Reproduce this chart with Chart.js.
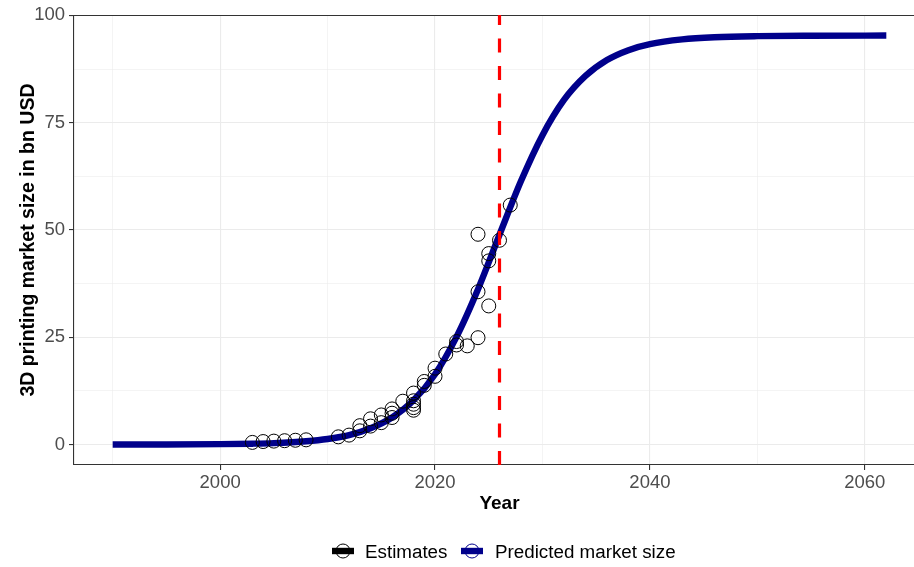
<!DOCTYPE html>
<html>
<head>
<meta charset="utf-8">
<script src="https://cdn.jsdelivr.net/npm/chart.js@4/dist/chart.umd.min.js"></script>
<style>
  html, body { margin: 0; padding: 0; background: #ffffff; overflow: hidden; }
  #wrap { width: 926px; height: 567px; }
</style>
</head>
<body>
<div id="wrap"><canvas id="chart" width="926" height="567"></canvas></div>
<script>
// Published market size estimates (bn USD) by year
const estimateYears = [2003, 2004, 2005, 2006, 2007, 2008, 2011, 2012, 2013, 2013,
  2014, 2014, 2015, 2015, 2016, 2016, 2016, 2017, 2018, 2018, 2018, 2018, 2018,
  2019, 2019, 2020, 2020, 2021, 2022, 2022, 2023, 2024, 2024, 2024, 2025, 2025, 2025,
  2026, 2027];
const estimateValues = [0.5, 0.7, 0.8, 0.9, 1.0, 1.1, 1.8, 2.2, 3.2, 4.4,
  4.3, 6.0, 5.1, 6.9, 6.3, 7.3, 8.3, 10.1, 8.0, 8.6, 9.4, 10.2, 12.0,
  13.8, 14.7, 15.9, 17.8, 21.1, 23.2, 24.0, 23.0, 24.9, 35.6, 49.0, 32.3, 42.8, 44.5,
  47.6, 55.8];

// Predicted market size curve (bn USD)
const curveYears = [1990, 1995, 2000, 2003, 2005, 2008, 2010, 2012, 2014, 2016, 2018,
  2020, 2022, 2024, 2026, 2028, 2030, 2032, 2034, 2036, 2038, 2040, 2043, 2046,
  2050, 2055, 2062];
const curveValues = [0.01, 0.02, 0.09, 0.2, 0.34, 0.77, 1.3, 2.2, 3.8, 6.3, 10.3,
  16.4, 25.1, 36.2, 48.9, 61.4, 72.1, 80.3, 85.9, 89.6, 91.9, 93.3, 94.4, 94.9,
  95.16, 95.26, 95.3];

// Current year marker
const markerYear = 2026;

// Axis ticks: every entry gets a grid line, labelled ones are major
const xTickYears = [1990, 2000, 2010, 2020, 2030, 2040, 2050, 2060];
const xLabelYears = [2000, 2020, 2040, 2060];
const yTickValues = [0, 12.5, 25, 37.5, 50, 62.5, 75, 87.5, 100];
const yLabelValues = [0, 25, 50, 75, 100];

const xRange = [1986.4, 2065.6];
const yRange = [-4.765, 100.07];

Chart.defaults.font.family = '"Liberation Sans", Arial, Helvetica, sans-serif';

const estimatePoints = estimateYears.map((yr, i) => ({ x: yr, y: estimateValues[i] }));
const curvePoints = curveYears.map((yr, i) => ({ x: yr, y: curveValues[i] }));
const markerPoints = [{ x: markerYear, y: yRange[0] }, { x: markerYear, y: yRange[1] }];

const GRID = '#EBEBEB';
const AXIS = '#333333';

function gridOpts(labelled) {
  return {
    color: GRID,
    lineWidth: c => (c.tick && labelled.includes(c.tick.value)) ? 1.1 : 0.55,
    tickColor: c => (c.tick && labelled.includes(c.tick.value)) ? AXIS : 'rgba(0,0,0,0)',
    tickLength: 5,
    tickWidth: 1.1,
    drawTicks: true
  };
}

// Legend drawn below the plot: each key is a short line with an open circle on top
const legendKeys = {
  id: 'legendKeys',
  afterDraw(chart) {
    const ctx = chart.ctx;
    const cy = 551;
    const entries = [
      { ds: chart.data.datasets[0], color: '#000000', keyX: 332, textX: 365 },
      { ds: chart.data.datasets[1], color: '#00008B', keyX: 461, textX: 495 }
    ];
    ctx.save();
    entries.forEach(e => {
      ctx.strokeStyle = e.color;
      ctx.lineWidth = 6.4;
      ctx.lineCap = 'butt';
      ctx.beginPath();
      ctx.moveTo(e.keyX, cy);
      ctx.lineTo(e.keyX + 22, cy);
      ctx.stroke();
      ctx.lineWidth = 1;
      ctx.beginPath();
      ctx.arc(e.keyX + 11, cy, 7, 0, Math.PI * 2);
      ctx.stroke();
      ctx.fillStyle = '#000000';
      ctx.font = '18.8px "Liberation Sans", Arial, sans-serif';
      ctx.textBaseline = 'alphabetic';
      ctx.textAlign = 'left';
      ctx.fillText(e.ds.label, e.textX, 558);
    });
    ctx.restore();
  }
};

new Chart(document.getElementById('chart'), {
  type: 'scatter',
  data: {
    datasets: [
      {
        label: 'Estimates',
        type: 'scatter',
        data: estimatePoints,
        pointRadius: 7,
        pointHoverRadius: 7,
        pointBorderWidth: 1,
        pointBorderColor: '#000000',
        pointBackgroundColor: 'rgba(0,0,0,0)',
        order: 1
      },
      {
        label: 'Predicted market size',
        type: 'line',
        data: curvePoints,
        borderColor: '#00008B',
        borderWidth: 6.4,
        pointRadius: 0,
        fill: false,
        cubicInterpolationMode: 'monotone',
        order: 2
      },
      {
        label: 'marker',
        type: 'line',
        data: markerPoints,
        borderColor: '#FF0000',
        borderWidth: 3.2,
        borderDash: [14, 13.5],
        pointRadius: 0,
        fill: false,
        order: 0
      }
    ]
  },
  options: {
    responsive: false,
    animation: false,
    devicePixelRatio: 1,
    layout: { autoPadding: false, padding: { top: 13, right: 1, bottom: 42, left: 0 } },
    plugins: {
      legend: { display: false },
      tooltip: { enabled: false }
    },
    scales: {
      x: {
        type: 'linear',
        position: 'bottom',
        min: xRange[0],
        max: xRange[1],
        afterBuildTicks: s => { s.ticks = xTickYears.map(v => ({ value: v })); },
        afterFit: s => { s.height = 60; },
        ticks: {
          autoSkip: false,
          maxRotation: 0,
          minRotation: 0,
          padding: 2,
          color: '#4D4D4D',
          font: { size: 18.5 },
          callback: v => xLabelYears.includes(v) ? String(v) : ''
        },
        grid: gridOpts(xLabelYears),
        border: { display: true, color: AXIS, width: 1.1 },
        title: {
          display: true,
          text: 'Year',
          color: '#000000',
          font: { size: 19, weight: 'bold' },
          padding: { top: 0, bottom: 9.6 }
        }
      },
      xTop: {
        type: 'linear',
        position: 'top',
        min: xRange[0],
        max: xRange[1],
        afterFit: s => { s.height = 0; },
        ticks: { display: false },
        grid: { display: true, color: 'rgba(0,0,0,0)', drawTicks: false },
        border: { display: true, color: AXIS, width: 1.1 }
      },
      y: {
        type: 'linear',
        min: yRange[0],
        max: yRange[1],
        afterBuildTicks: s => { s.ticks = yTickValues.map(v => ({ value: v })); },
        afterFit: s => { s.width = 74; },
        ticks: {
          autoSkip: false,
          padding: 4,
          color: '#4D4D4D',
          font: { size: 18.5 },
          callback: v => yLabelValues.includes(v) ? String(v) : ''
        },
        grid: gridOpts(yLabelValues),
        border: { display: true, color: AXIS, width: 1.1 },
        title: {
          display: true,
          text: '3D printing market size in bn USD',
          color: '#000000',
          font: { size: 19.5, weight: 'bold' },
          padding: { top: 17, bottom: 0 }
        }
      }
    }
  },
  plugins: [legendKeys]
});
</script>
</body>
</html>
